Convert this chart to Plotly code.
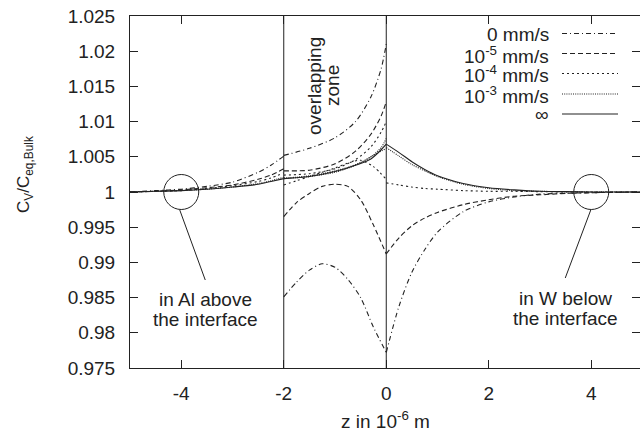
import plotly.graph_objects as go

# ---------------- data ----------------
labels = ["0 mm/s", "10<sup>-5</sup> mm/s", "10<sup>-4</sup> mm/s", "10<sup>-3</sup> mm/s", "\u221e"]

z_left = [-5, -4.5, -4, -3.5, -3, -2.5, -2.25, -2]
z_zone_al = [-2, -1.5, -1, -0.6, -0.3, -0.1, 0]
z_zone_w = [-2, -1.75, -1.5, -1.25, -1, -0.75, -0.5, -0.25, 0]
z_right = [0, 0.25, 0.5, 0.75, 1, 1.5, 2, 2.5, 3, 3.5, 4, 5]

# Al side (left region)
c_left_0 = [1.0000, 1.0002, 1.0004, 1.0008, 1.0014, 1.0028, 1.0038, 1.0051]
c_left_5 = [1.0000, 1.0001, 1.0003, 1.0006, 1.0010, 1.0018, 1.0024, 1.0033]
c_left_4 = [1.0000, 1.0001, 1.0002, 1.0005, 1.0009, 1.0015, 1.0020, 1.0027]
c_left_3 = [1.0000, 1.0001, 1.0002, 1.0004, 1.0007, 1.0012, 1.0016, 1.0021]
c_left_inf = [1.0000, 1.0001, 1.0002, 1.0004, 1.0007, 1.0011, 1.0015, 1.0019]

# Al solution inside overlapping zone
c_zal_0 = [1.0052, 1.0062, 1.0077, 1.0100, 1.0135, 1.0175, 1.0210]
c_zal_5 = [1.0030, 1.0031, 1.0040, 1.0058, 1.0082, 1.0108, 1.0128]
c_zal_4 = [1.0024, 1.0026, 1.0033, 1.0046, 1.0064, 1.0085, 1.0100]
c_zal_3 = [1.0019, 1.0022, 1.0028, 1.0038, 1.0050, 1.0063, 1.0076]
c_zal_inf = [1.0019, 1.0022, 1.0029, 1.0038, 1.0047, 1.0060, 1.0068]

# W solution inside overlapping zone
c_zw_0 = [0.9851, 0.9872, 0.9889, 0.9898, 0.9893, 0.9876, 0.9850, 0.9808, 0.9772]
c_zw_5 = [0.9965, 0.9985, 0.9998, 1.0008, 1.0011, 1.0008, 0.9989, 0.9953, 0.9912]
c_zw_4 = [1.0010, 1.0016, 1.0022, 1.0028, 1.0034, 1.0041, 1.0045, 1.0036, 1.0018]
c_zw_3 = [1.0020, 1.0021, 1.0023, 1.0026, 1.0030, 1.0035, 1.0042, 1.0052, 1.0062]

# W side (right region)
c_right_0 = [0.9772, 0.9838, 0.9886, 0.9918, 0.9943, 0.9972, 0.9986, 0.9993, 0.9997, 0.9998, 0.9999, 1.0000]
c_right_5 = [0.9912, 0.9935, 0.9952, 0.9963, 0.9971, 0.9982, 0.9989, 0.9994, 0.9996, 0.9998, 0.9999, 1.0000]
c_right_4 = [1.0013, 1.0010, 1.0007, 1.0005, 1.0004, 1.0002, 1.0001, 1.0001, 1.00005, 1.0000, 1.0000, 1.0000]
c_right_3 = [1.0063, 1.0051, 1.0039, 1.0030, 1.0022, 1.0011, 1.0005, 1.0002, 1.0001, 1.00005, 1.0000, 1.0000]
c_right_inf = [1.0068, 1.0056, 1.0043, 1.0032, 1.0023, 1.0012, 1.0006, 1.0003, 1.0001, 1.00005, 1.0000, 1.0000]

zone_bounds = [-2, 0]
y_ticks = [0.975, 0.98, 0.985, 0.99, 0.995, 1.0, 1.005, 1.01, 1.015, 1.02, 1.025]
y_tick_text = ["0.975", "0.98", "0.985", "0.99", "0.995", "1", "1.005", "1.01", "1.015", "1.02", "1.025"]
x_ticks = [-4, -2, 0, 2, 4]
x_tick_text = ["-4", "-2", "0", "2", "4"]
marker_z = [-4, 4]
marker_c = [1.0, 1.0]

# ---------------- styling ----------------
INK = "#222222"
FONT = "Liberation Sans, Arial, Helvetica, sans-serif"
FS = 19
dashes = ["5px,3px,1px,3px", "5px,3px", "2px,3px", "1px,1.2px", "solid"]

W, H = 640, 435
ML, MR, MT, MB = 130, 0, 16, 67
PW, PH = W - ML - MR, H - MT - MB
PXU = 51.25
x_range = [-5, -5 + PW / PXU]


def px_x(p):
    return (p - ML) / PW


def px_y(p):
    return (MT + PH - p) / PH


def join(*segs):
    xs, ys = [], []
    for sx, sy in segs:
        if xs:
            xs.append(None)
            ys.append(None)
        xs += list(sx)
        ys += list(sy)
    return xs, ys


series = [
    join((z_left, c_left_0), (z_zone_al, c_zal_0), (z_zone_w, c_zw_0), (z_right, c_right_0)),
    join((z_left, c_left_5), (z_zone_al, c_zal_5), (z_zone_w, c_zw_5), (z_right, c_right_5)),
    join((z_left, c_left_4), (z_zone_al, c_zal_4), (z_zone_w, c_zw_4), (z_right, c_right_4)),
    join((z_left, c_left_3), (z_zone_al, c_zal_3), (z_zone_w, c_zw_3), (z_right, c_right_3)),
    join((z_left, c_left_inf), (z_zone_al, c_zal_inf), (z_right, c_right_inf)),
]

fig = go.Figure()
for (xs, ys), name, d in zip(series, labels, dashes):
    fig.add_trace(go.Scatter(
        x=xs, y=ys, mode="lines", name=name, showlegend=False,
        connectgaps=False,
        line=dict(color=INK, width=1.1, dash=d, shape="spline", smoothing=0.8),
        hoverinfo="skip",
    ))

shapes = []
for zb in zone_bounds:
    shapes.append(dict(type="line", xref="x", yref="paper", x0=zb, x1=zb, y0=0, y1=1,
                       line=dict(color=INK, width=1)))

# marker circles and leaders
leader = [(-1.5, -18, 24, -88), (-0.5, -18, -26, -86)]
for mz, mc, (a0, b0, a1, b1) in zip(marker_z, marker_c, leader):
    shapes.append(dict(type="circle", xref="x", yref="y", xsizemode="pixel", ysizemode="pixel",
                       xanchor=mz, yanchor=mc, x0=-17.5, x1=17.5, y0=-17.5, y1=17.5,
                       line=dict(color=INK, width=1)))
    shapes.append(dict(type="line", xref="x", yref="y", xsizemode="pixel", ysizemode="pixel",
                       xanchor=mz, yanchor=mc, x0=a0, y0=b0, x1=a1, y1=b1,
                       line=dict(color=INK, width=1)))

annotations = []
# manual legend (gnuplot style: text then sample)
row_y = [33.5, 53.5, 73.5, 94, 114]
text_y = [34.5, 54.5, 74.5, 95, 114]
for name, d, ry, ty in zip(labels, dashes, row_y, text_y):
    shapes.append(dict(type="line", xref="paper", yref="paper",
                       x0=px_x(562), x1=px_x(618), y0=px_y(ry), y1=px_y(ry),
                       line=dict(color=INK, width=1.1, dash=d)))
    annotations.append(dict(text=name, xref="paper", yref="paper", x=px_x(551), y=px_y(ty),
                            xanchor="right", yanchor="middle", showarrow=False,
                            font=dict(family=FONT, size=FS, color=INK)))


def note(text, x, y, angle=0, size=FS):
    annotations.append(dict(text=text, xref="paper", yref="paper", x=px_x(x), y=px_y(y),
                            xanchor="center", yanchor="middle", showarrow=False, textangle=angle,
                            font=dict(family=FONT, size=size, color=INK)))


note("overlapping", 314, 86, -90)
note("zone", 332, 86, -90)
note("in Al above", 205, 299)
note("the interface", 205, 319)
note("in W below", 565, 298)
note("the interface", 565, 318)
note("z in 10<sup>-6</sup> m", 385, 420)
note("C<sub>V</sub>/C<sub>eq,Bulk</sub>", 25, 175, -90, 17)

axis_common = dict(showline=True, linecolor=INK, linewidth=1, mirror="ticks",
                   ticks="inside", ticklen=8, tickwidth=1, tickcolor=INK,
                   showgrid=False, zeroline=False,
                   tickfont=dict(family=FONT, size=FS, color=INK))

fig.update_layout(
    width=W, height=H,
    margin=dict(l=ML, r=MR, t=MT, b=MB),
    paper_bgcolor="white", plot_bgcolor="white",
    showlegend=False,
    shapes=shapes, annotations=annotations,
    xaxis=dict(range=x_range, tickvals=x_ticks, ticktext=x_tick_text,
               ticklabelstandoff=8, **axis_common),
    yaxis=dict(range=[0.975, 1.025], tickvals=y_ticks, ticktext=y_tick_text,
               ticklabelstandoff=10, **axis_common),
)

fig.write_html("out.html")
